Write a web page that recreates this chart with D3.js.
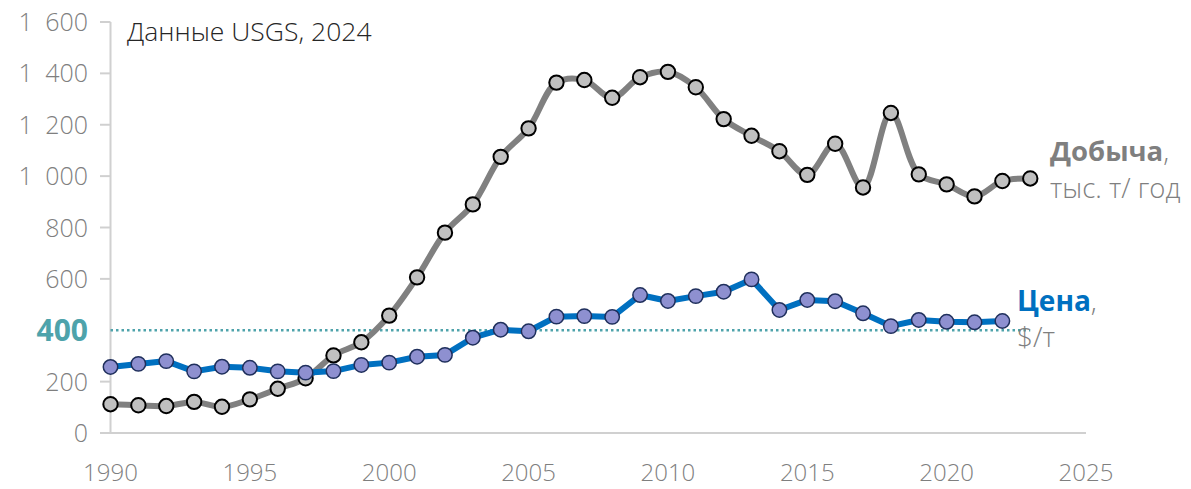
<!DOCTYPE html>
<html>
<head>
<meta charset="utf-8">
<script src="https://cdn.jsdelivr.net/npm/d3@7"></script>
<style>
  body { margin: 0; background: #fff; }
  text { font-family: "Open Sans", "Noto Sans", sans-serif; }
</style>
</head>
<body>
<script>
var width = 1191,
    height = 489;

var years = [1990, 1991, 1992, 1993, 1994, 1995, 1996, 1997, 1998, 1999,
             2000, 2001, 2002, 2003, 2004, 2005, 2006, 2007, 2008, 2009,
             2010, 2011, 2012, 2013, 2014, 2015, 2016, 2017, 2018, 2019,
             2020, 2021, 2022, 2023];

// добыча, тыс. т / год
var production = [112, 108, 105, 121, 102, 131, 172, 213, 302, 353,
                  457, 606, 780, 890, 1075, 1186, 1364, 1374, 1305, 1385,
                  1406, 1346, 1222, 1157, 1097, 1005, 1126, 956, 1246, 1007,
                  968, 921, 981, 991];

// цена, $/т (до 2022)
var price = [257, 269, 280, 240, 258, 254, 240, 235, 241, 265,
             274, 297, 304, 371, 402, 396, 453, 455, 452, 537,
             514, 533, 550, 598, 479, 518, 513, 466, 416, 440,
             433, 431, 436];

var xTicks = [1990, 1995, 2000, 2005, 2010, 2015, 2020, 2025];
var yTicks = [0, 200, 400, 600, 800, 1000, 1200, 1400, 1600];
var yTickLabels = ['0', '200', '400', '600', '800', '1\u2002000', '1\u2002200', '1\u2002400', '1\u2002600'];
var refValue = 400;

var svg = d3.select('body')
  .append('svg')
  .attr('width', width)
  .attr('height', height);

var x = d3.scaleLinear()
  .domain([1990, 2025])
  .range([110.5, 1086]);

var y = d3.scaleLinear()
  .domain([0, 1600])
  .range([433, 22]);

// оси
svg.append('line')
  .attr('x1', 100).attr('x2', x(2025))
  .attr('y1', y(0)).attr('y2', y(0))
  .attr('stroke', '#d0d0d0').attr('stroke-width', 2);

svg.append('line')
  .attr('x1', x(1990)).attr('x2', x(1990))
  .attr('y1', y(0)).attr('y2', y(1600))
  .attr('stroke', '#d0d0d0').attr('stroke-width', 2);

svg.selectAll('.ytick')
  .data(yTicks.filter(d => d != refValue))
  .enter()
  .append('line')
  .attr('x1', 100).attr('x2', x(1990))
  .attr('y1', d => y(d)).attr('y2', d => y(d))
  .attr('stroke', '#d0d0d0').attr('stroke-width', 2);

svg.selectAll('.ylabel')
  .data(yTicks)
  .enter()
  .append('text')
  .attr('x', 88)
  .attr('y', d => y(d))
  .attr('dy', '0.36em')
  .attr('text-anchor', 'end')
  .style('font-size', d => d == refValue ? '30px' : '25px')
  .style('font-weight', d => d == refValue ? 'bold' : '300')
  .attr('fill', d => d == refValue ? '#4ea3ab' : '#7f7f7f')
  .text((d, i) => yTickLabels[i]);

svg.selectAll('.xlabel')
  .data(xTicks)
  .enter()
  .append('text')
  .attr('x', d => x(d))
  .attr('y', 472)
  .attr('dy', '0.36em')
  .attr('text-anchor', 'middle')
  .style('font-size', '24px')
  .style('font-weight', '300')
  .attr('fill', '#7f7f7f')
  .text(d => d);

// линия 400
svg.append('line')
  .attr('x1', x(1990)).attr('x2', x(2023))
  .attr('y1', y(refValue)).attr('y2', y(refValue))
  .attr('stroke', '#4ea3ab')
  .attr('stroke-width', 2.5)
  .attr('stroke-dasharray', '2.5 3');

// добыча
var prodLine = d3.line()
  .x((d, i) => x(years[i]))
  .y(d => y(d))
  .curve(d3.curveCatmullRom.alpha(0.5));

svg.append('path')
  .datum(production)
  .attr('d', prodLine)
  .attr('fill', 'none')
  .attr('stroke', '#808080')
  .attr('stroke-width', 6);

svg.selectAll('.prodDot')
  .data(production)
  .enter()
  .append('circle')
  .attr('cx', (d, i) => x(years[i]))
  .attr('cy', d => y(d))
  .attr('r', 7.2)
  .attr('fill', '#c0c0c0')
  .attr('stroke', '#000')
  .attr('stroke-width', 2);

// цена
var priceLine = d3.line()
  .x((d, i) => x(years[i]))
  .y(d => y(d));

svg.append('path')
  .datum(price)
  .attr('d', priceLine)
  .attr('fill', 'none')
  .attr('stroke', '#0070c0')
  .attr('stroke-width', 6)
  .attr('stroke-linejoin', 'round');

svg.selectAll('.priceDot')
  .data(price)
  .enter()
  .append('circle')
  .attr('cx', (d, i) => x(years[i]))
  .attr('cy', d => y(d))
  .attr('r', 7.2)
  .attr('fill', '#8e90d0')
  .attr('stroke', '#1f2f5c')
  .attr('stroke-width', 1.5);

// подписи
svg.append('text')
  .attr('x', 127).attr('y', 41)
  .style('font-size', '26.5px')
  .style('font-weight', '300')
  .attr('fill', '#262626')
  .text('Данные USGS, 2024');

var t1 = svg.append('text')
  .attr('x', 1050).attr('y', 161)
  .style('font-size', '27.5px')
  .attr('fill', '#7f7f7f');
t1.append('tspan').style('font-weight', 'bold').text('Добыча');
t1.append('tspan').style('font-weight', '300').text(',');

svg.append('text')
  .attr('x', 1050).attr('y', 198)
  .style('font-size', '27.5px')
  .style('font-weight', '300')
  .attr('fill', '#7f7f7f')
  .text('тыс. т/ год');

var t2 = svg.append('text')
  .attr('x', 1017).attr('y', 311)
  .style('font-size', '28px');
t2.append('tspan').style('font-weight', 'bold').attr('fill', '#0070c0').text('Цена');
t2.append('tspan').style('font-weight', '300').attr('fill', '#7f7f7f').text(',');

svg.append('text')
  .attr('x', 1017).attr('y', 347)
  .style('font-size', '28px')
  .style('font-weight', '300')
  .attr('fill', '#7f7f7f')
  .text('$/т');
</script>
</body>
</html>
